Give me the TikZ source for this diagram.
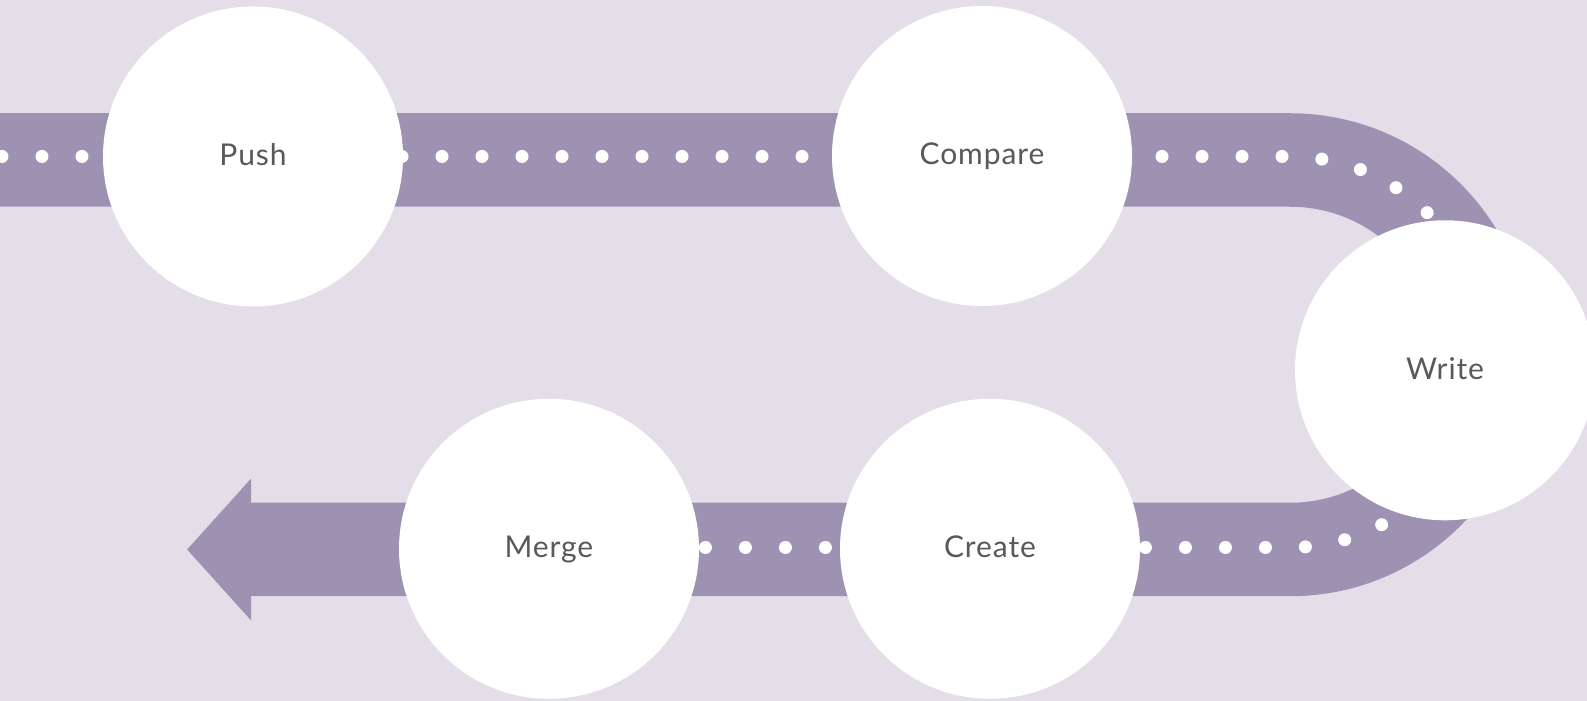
\documentclass[tikz,border=0pt]{standalone}
\usepackage{fontspec}
\setmainfont[LetterSpace=3]{Lato}
\usepackage{tikz}
\usetikzlibrary{arrows.meta}
\definecolor{lilacbg}{HTML}{E4DEE9}
\definecolor{lilacband}{HTML}{9D92B2}
\definecolor{labelgray}{HTML}{58595B}
\tikzset{
    stage/.style={circle, fill=white, minimum size=300pt, inner sep=0pt, text=labelgray, text height=21.5pt, text depth=4pt, font=\fontsize{30}{36}\selectfont},
    band/.style={lilacband, line width=93.5pt, -{Triangle[length=64pt, width=138pt]}},
    dots/.style={white, line width=13pt, line cap=round, dash pattern=on 0pt off 40pt}
}

\begin{document}
\begin{tikzpicture}[x=1pt, y=1pt]
        \clip (0, 0) rectangle (1587, 701);
        \fill[lilacbg] (0, 0) rectangle (1587, 701);

        \coordinate (bandin) at (-20, 541);
        \coordinate (bandturn) at (1290, 541);
        \coordinate (bandtip) at (187, 151.5);
        \draw[band] (bandin) -- (bandturn) arc[start angle=90, end angle=-90, radius=194.75] -- (bandtip);

        \draw[dots] (2, 544.5) -- (1290, 544.5) arc[start angle=90, end angle=0, radius=195.5];
        \draw[dots] (705.4, 153.5) -- (1290, 153.5) arc[start angle=-90, end angle=0, radius=195.5];

        \foreach \name/\x/\y/\txt in {push/253/544.5/Push, compare/982/545/Compare, write/1445/330.7/Write, create/990/152.2/Create, merge/549/152.2/Merge} {
            \node[stage] (\name) at (\x, \y) {\txt};
        }
\end{tikzpicture}
\end{document}
